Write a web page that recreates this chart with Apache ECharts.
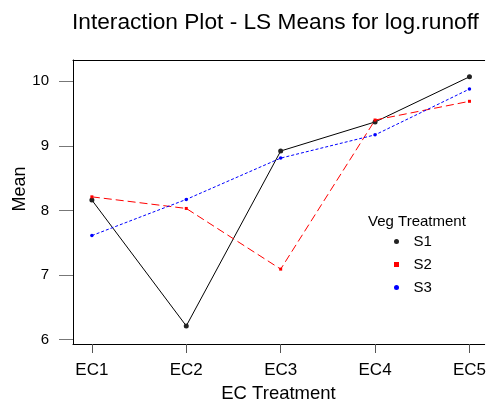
<!DOCTYPE html>
<html>
<head>
<meta charset="utf-8">
<script src="https://cdn.jsdelivr.net/npm/echarts@6/dist/echarts.min.js"></script>
<style>
html,body{margin:0;padding:0;background:#fff;}
#chart{width:489px;height:402px;}
</style>
</head>
<body>
<div id="chart"></div>
<script>
const categories = ['EC1', 'EC2', 'EC3', 'EC4', 'EC5'];
const seriesNames = ['S1', 'S2', 'S3'];
const s1Values = [8.16, 6.21, 8.92, 9.37, 10.07];
const s2Values = [8.21, 8.03, 7.09, 9.40, 9.69];
const s3Values = [7.61, 8.17, 8.81, 9.17, 9.88];
const yTickValues = [6, 7, 8, 9, 10];
const xTickValues = categories.map((c, i) => i + 1);

const FONT = 'Liberation Sans, Arial, sans-serif';
const toPoints = vals => vals.map((v, i) => [i + 1, v]);

const chart = echarts.init(document.getElementById('chart'), null, {renderer: 'canvas'});
chart.setOption({
  animation: false,
  backgroundColor: '#fff',
  title: {
    text: 'Interaction Plot - LS Means for log.runoff',
    left: 72, top: 11, padding: 0,
    textStyle: {fontFamily: FONT, fontSize: 22.7, fontWeight: 'normal', color: '#000'}
  },
  grid: {
    left: 73, top: 60, right: 0, height: 284,
    show: false
  },
  xAxis: [{
    type: 'value', min: 0.8, max: 5.161, position: 'bottom',
    axisLine: {show: true, onZero: false, lineStyle: {color: '#000', width: 1}},
    splitLine: {show: false},
    axisTick: {show: true, customValues: xTickValues, length: 9, lineStyle: {color: '#555'}},
    axisLabel: {
      customValues: xTickValues, margin: 18, fontFamily: FONT, fontSize: 17, color: '#000',
      formatter: v => categories[Math.round(v) - 1]
    }
  }, {
    type: 'value', min: 0.8, max: 5.161, position: 'top',
    axisLine: {show: true, onZero: false, lineStyle: {color: '#000', width: 1}},
    splitLine: {show: false}, axisTick: {show: false}, axisLabel: {show: false}
  }],
  yAxis: {
    type: 'value', min: 5.93, max: 10.33,
    axisLine: {show: true, onZero: false, lineStyle: {color: '#000', width: 1}},
    splitLine: {show: false},
    axisTick: {show: true, customValues: yTickValues, length: 14, lineStyle: {color: '#777'}},
    axisLabel: {customValues: yTickValues, margin: 24, fontFamily: FONT, fontSize: 15, color: '#000'}
  },
  legend: {
    orient: 'vertical', left: 394, top: 234, padding: 0,
    itemWidth: 24, itemHeight: 5, itemGap: 8,
    data: [
      {name: seriesNames[0], icon: 'circle'},
      {name: seriesNames[1], icon: 'path://M0,0L1,0L1,1L0,1Z'},
      {name: seriesNames[2], icon: 'circle'}
    ],
    textStyle: {fontFamily: FONT, fontSize: 15, color: '#000'}
  },
  graphic: [
    {type: 'text', left: 368, top: 214, style: {text: 'Veg Treatment', font: '15px ' + FONT, fill: '#000'}},
    {type: 'text', x: 278.5, y: 394, style: {text: 'EC Treatment', font: '18.5px ' + FONT, fill: '#000', textAlign: 'center', textVerticalAlign: 'middle'}},
    {type: 'text', x: 20, y: 189, rotation: Math.PI / 2, style: {text: 'Mean', font: '18px ' + FONT, fill: '#000', textAlign: 'center', textVerticalAlign: 'middle'}}
  ],
  series: [
    {
      name: seriesNames[0], type: 'line', data: toPoints(s1Values),
      symbol: 'circle', symbolSize: 5,
      itemStyle: {color: '#222'},
      lineStyle: {color: '#000', width: 1, type: 'solid'}
    },
    {
      name: seriesNames[1], type: 'line', data: toPoints(s2Values),
      symbol: 'rect', symbolSize: 3,
      itemStyle: {color: '#ff0000'},
      lineStyle: {color: '#ff0000', width: 1, type: [8, 4]}
    },
    {
      name: seriesNames[2], type: 'line', data: toPoints(s3Values),
      symbol: 'circle', symbolSize: 3.5,
      itemStyle: {color: '#0000ff'},
      lineStyle: {color: '#0000ff', width: 1, type: [3, 2]}
    }
  ]
});
</script>
</body>
</html>
